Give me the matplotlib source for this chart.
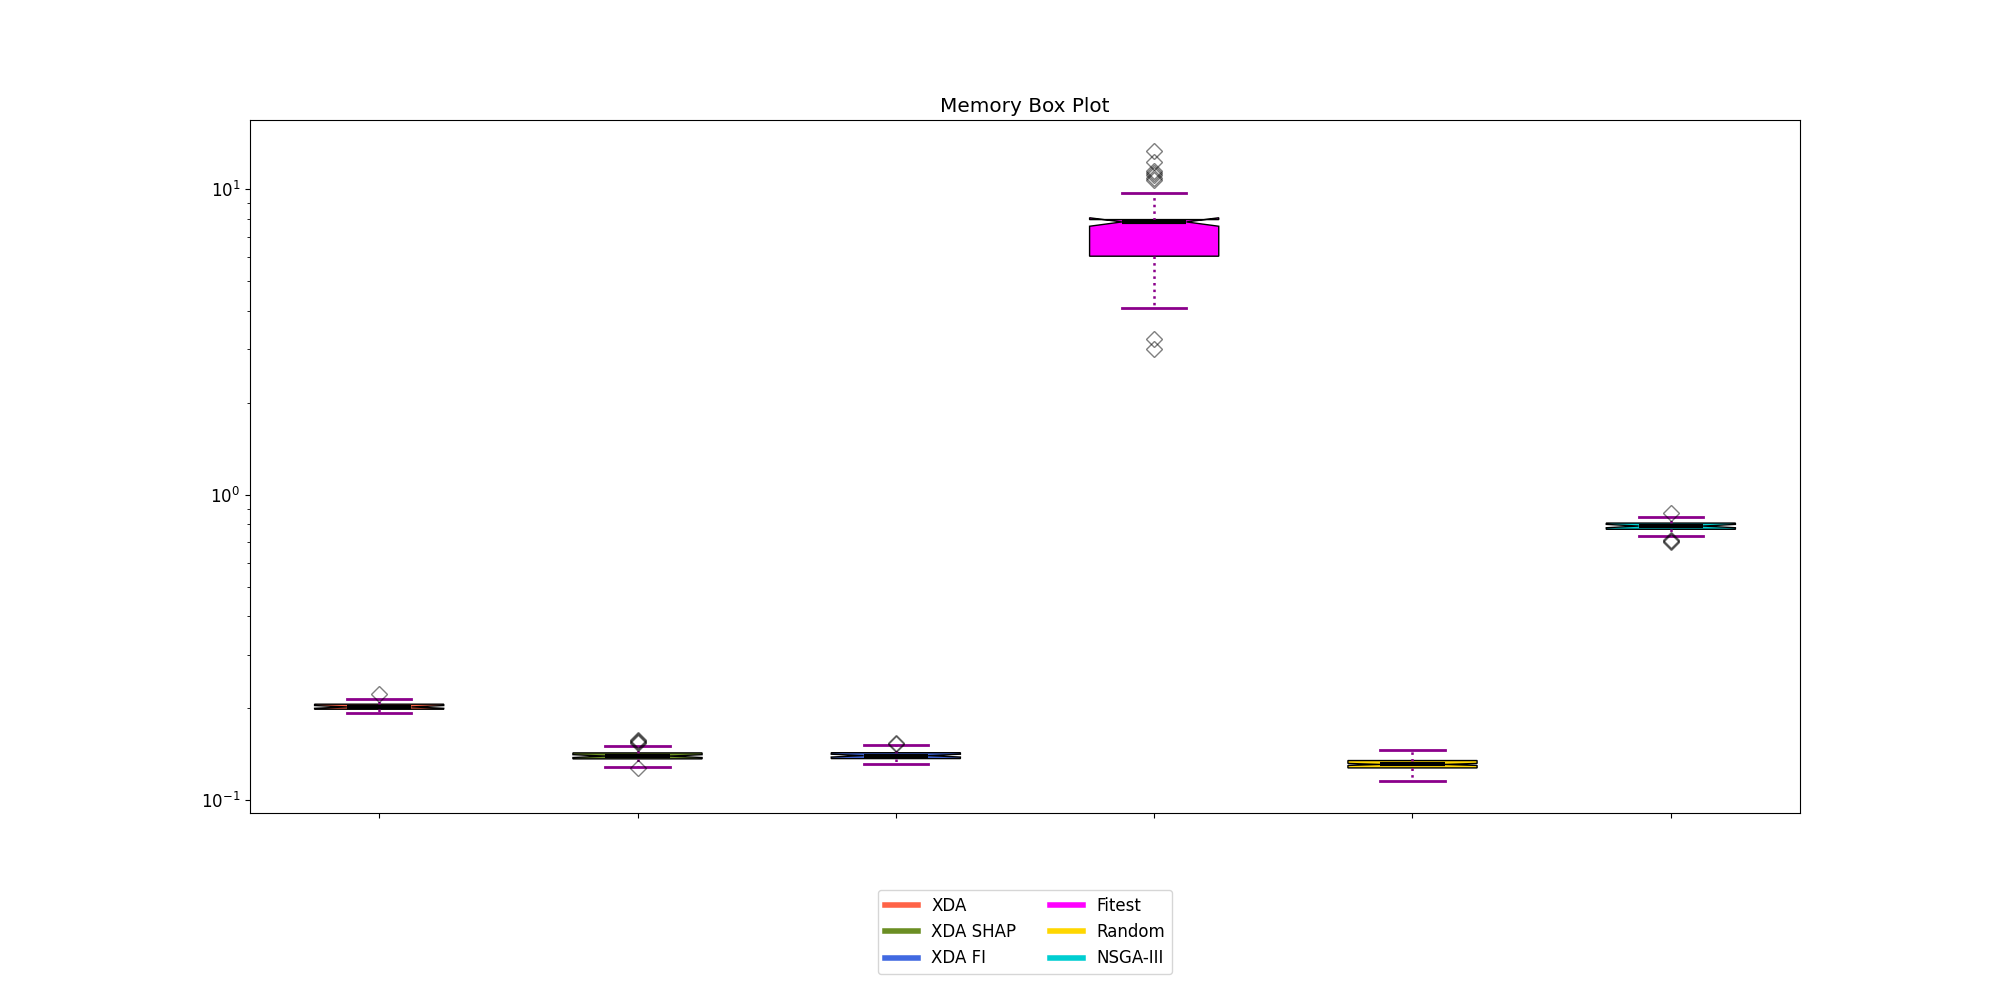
import matplotlib
matplotlib.use("Agg")
import matplotlib.pyplot as plt
from matplotlib.lines import Line2D

plt.rcParams["font.size"] = 12

# 各方法名称和颜色
methods = ["XDA", "XDA SHAP", "XDA FI", "Fitest", "Random", "NSGA-III"]
colors = ["tomato", "olivedrab", "royalblue", "magenta", "gold", "darkturquoise"]

# 箱线图统计量
q1 = [0.1986, 0.1366, 0.1369, 6.04, 0.1276, 0.771]
med = [0.2021, 0.1395, 0.1400, 7.82, 0.1310, 0.790]
q3 = [0.2063, 0.1429, 0.1431, 7.96, 0.1349, 0.808]
cilo = [0.2000, 0.1380, 0.1385, 7.57, 0.1300, 0.780]
cihi = [0.2042, 0.1410, 0.1415, 8.07, 0.1320, 0.800]
whislo = [0.1937, 0.1282, 0.1310, 4.08, 0.1156, 0.7357]
whishi = [0.2150, 0.1510, 0.1517, 9.76, 0.1465, 0.848]
fliers = [
    [0.2232],
    [0.1280, 0.1540, 0.1553, 0.1565, 0.1575],
    [0.1532, 0.1535],
    [3.00, 3.24, 10.7, 10.9, 11.1, 11.3, 11.5, 12.3, 13.3],
    [],
    [0.702, 0.706, 0.709, 0.874],
]

stats = []
for i in range(len(methods)):
    stats.append({
        "q1": q1[i], "med": med[i], "q3": q3[i],
        "cilo": cilo[i], "cihi": cihi[i],
        "whislo": whislo[i], "whishi": whishi[i],
        "fliers": fliers[i], "label": "",
    })

fig, ax = plt.subplots(figsize=(20, 10), dpi=100)
fig.subplots_adjust(bottom=0.1875)

bp = ax.bxp(
    stats,
    shownotches=True,
    patch_artist=True,
    widths=0.5,
    boxprops=dict(edgecolor="black", linewidth=1),
    medianprops=dict(color="black", linewidth=3),
    whiskerprops=dict(color="darkmagenta", linestyle=":", linewidth=1.8),
    capprops=dict(color="darkmagenta", linewidth=2),
    flierprops=dict(marker="D", markersize=8, markerfacecolor="none",
                    markeredgecolor="black", alpha=0.5),
)
for patch, c in zip(bp["boxes"], colors):
    patch.set_facecolor(c)

ax.set_yscale("log")
ax.set_title("Memory Box Plot")
ax.set_xticklabels([""] * len(methods))

handles = [Line2D([0], [0], color=c, linewidth=4) for c in colors]
ax.legend(handles, methods, loc="upper center", bbox_to_anchor=(0.5, -0.1),
          ncol=2)

plt.savefig("out.png", dpi=100)
